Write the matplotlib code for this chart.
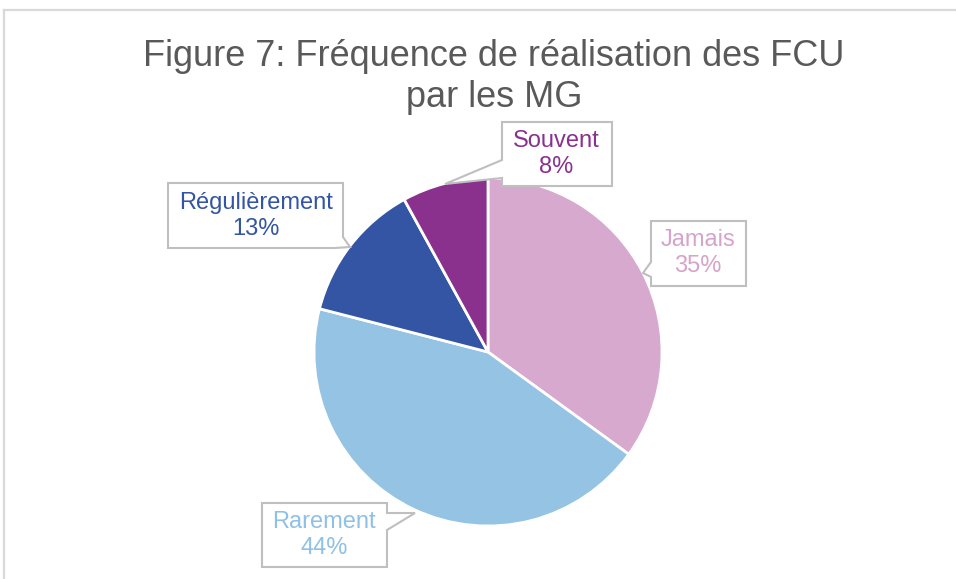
import matplotlib.pyplot as plt
from matplotlib.patches import Polygon
from matplotlib.lines import Line2D

labels = ['Jamais', 'Rarement', 'Régulièrement', 'Souvent']
values = [35, 44, 13, 8]
colors = ['#D8A9CE', '#94C3E4', '#3455A4', '#8A308D']
text_colors = ['#D5A3CB', '#8FC0E6', '#3455A4', '#8A308D']

W, H = 956, 579


def fx(x, y):
    # pixel (from top-left) -> figure fraction
    return (x / W, 1 - y / H)


fig = plt.figure(figsize=(W / 100, H / 100), dpi=100)
plt.rcParams['font.family'] = ['Liberation Sans', 'DejaVu Sans']

# frame lines (top and left)
fig.add_artist(Line2D([4 / W, 1], [1 - 10 / H, 1 - 10 / H], color='#D9D9D9', lw=1.6, transform=fig.transFigure))
fig.add_artist(Line2D([4 / W, 4 / W], [0, 1 - 10 / H], color='#D9D9D9', lw=1.6, transform=fig.transFigure))

fig.text(494 / W, 1 - 77 / H, 'Figure 7: Fréquence de réalisation des FCU\npar les MG',
         ha='center', va='center', fontsize=26, color='#595959', linespacing=1.2)

# pie
cx, cy, r = 488, 352, 174
ax = fig.add_axes([(cx - r) / W, (H - cy - r) / H, 2 * r / W, 2 * r / H])
ax.pie(values, colors=colors, startangle=90, counterclock=False,
       wedgeprops=dict(edgecolor='white', linewidth=2))
ax.set_xlim(-1, 1)
ax.set_ylim(-1, 1)
ax.set_aspect('auto')
ax.axis('off')

# callouts: outline in pixels, text centre
callouts = {
    'Jamais': ([(651, 221), (746, 221), (746, 286), (651, 286), (651, 277), (643, 273), (651, 262)], (698, 253)),
    'Rarement': ([(262, 503), (387, 503), (387, 513), (415, 513), (387, 530), (387, 567), (262, 567)], (324, 535)),
    'Régulièrement': ([(168, 183), (343, 183), (343, 237), (350, 247), (335, 248), (168, 248)], (256, 216)),
    'Souvent': ([(502, 122), (612, 122), (612, 186), (502, 186), (502, 178), (445, 184), (502, 160)], (556, 154)),
}

for lab, val, tc in zip(labels, values, text_colors):
    pts, (tx, ty) = callouts[lab]
    poly = Polygon([fx(x, y) for x, y in pts], closed=True, facecolor='white',
                   edgecolor='#BFBFBF', lw=1.5, transform=fig.transFigure, zorder=5)
    fig.add_artist(poly)
    fig.text(tx / W, 1 - ty / H, f'{lab}\n{val}%', ha='center', va='center',
             fontsize=17, color=tc, linespacing=1.25, zorder=6)

fig.savefig('out.png', dpi=100)
